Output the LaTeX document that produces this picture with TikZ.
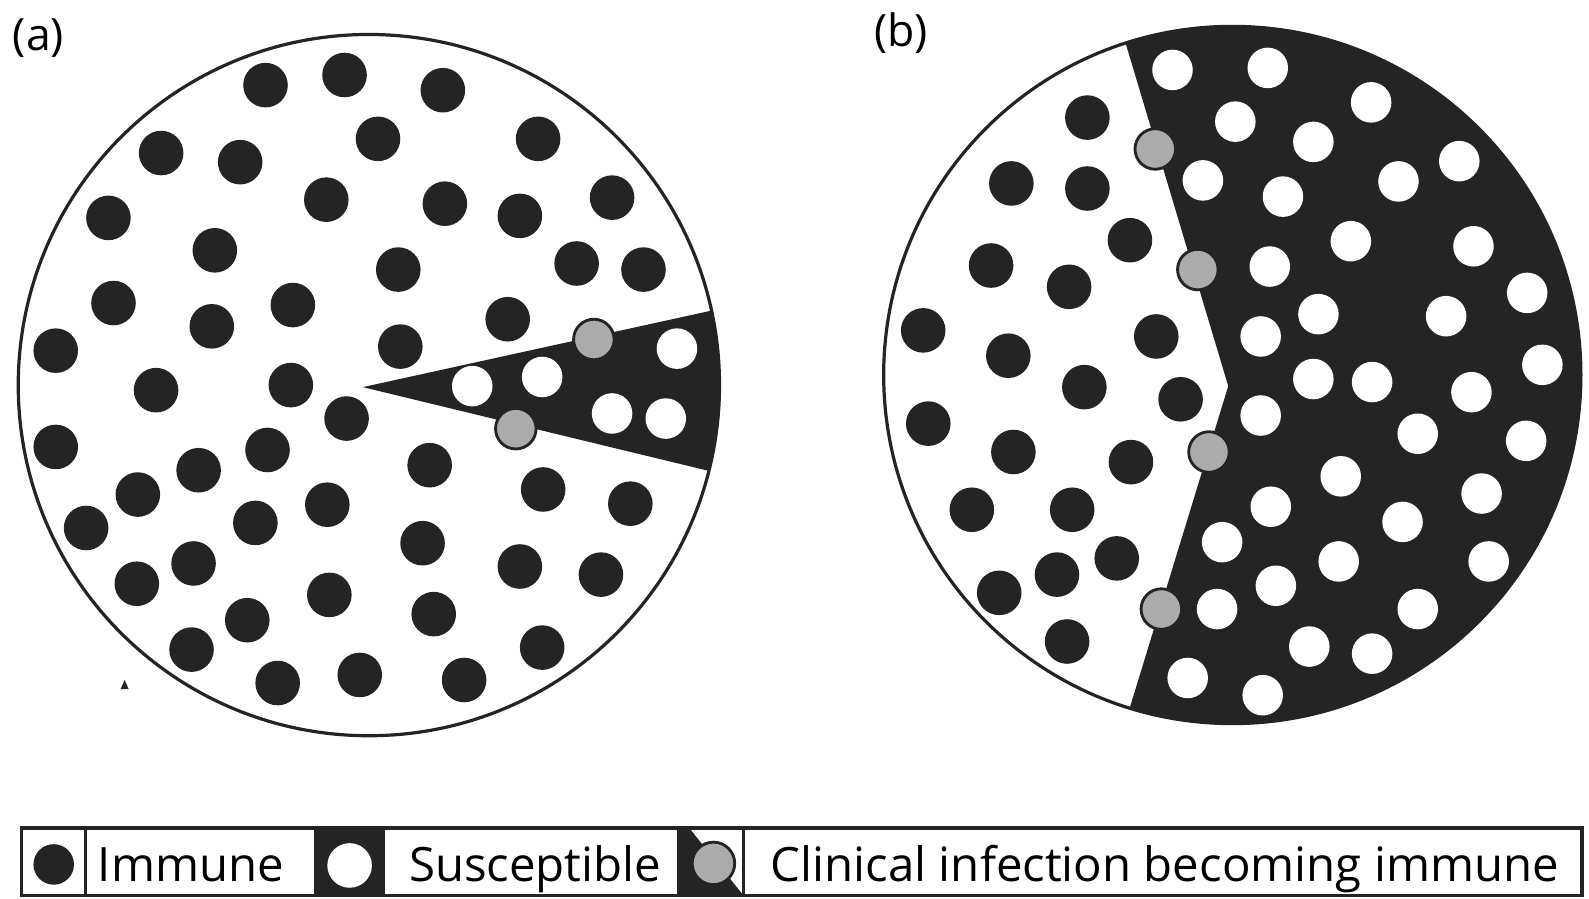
\documentclass[tikz,border=0pt]{standalone}
\usepackage{fontspec}
\setmainfont{Open Sans}
\definecolor{ink}{HTML}{242424}
\definecolor{hatch}{HTML}{ABABAB}

\begin{document}
\begin{tikzpicture}[x=0.1mm,y=-0.1mm,
    immune/.style={fill=ink},
    susceptible/.style={fill=white},
    clinical/.style={fill=hatch,draw=ink,line width=0.8pt},
    rim/.style={draw=ink,line width=0.9pt},
    legtext/.style={anchor=base west,inner sep=0pt,font=\fontsize{13.3}{16}\selectfont},
    paneltext/.style={anchor=base west,inner sep=0pt,font=\fontsize{12.5}{15}\selectfont}]
    \useasboundingbox (0,0) rectangle (1568,887);

    % Panel labels
    \node[paneltext] (labela) at (12,50) {(a)};
    \node[paneltext] (labelb) at (862,46) {(b)};

    % (a) wedge of infection
    \begin{scope}
        \clip (364,380) circle[radius=346];
        \fill[ink] (358,382) -- (800,285) -- (800,489) -- cycle;
    \end{scope}
    \draw[rim] (364,380) circle[radius=346];
    \foreach \x/\y in {262/84,340/74,437/89,373/137,531/137,159/151,237/160,322/197,
        439/201,513/213,604/195,107/215,212/247,393/266,569/260,635/266,112/299,
        289/301,209/322,501/315,395/342,55/346,154/385,287/380,342/413,55/441,
        264/444,196/464,424/459,136/488,536/483,622/497,85/521,252/516,323/498,
        417/536,191/556,135/576,513/559,593/567,325/587,244/612,428/606,189/641,
        535/639,274/674,355/666,458/671}
        \fill[immune] (\x,\y) circle[radius=22];
    \foreach \x/\y in {466/381,535/372,668/344,604/408,657/413}
        \fill[susceptible] (\x,\y) circle[radius=20];
    \foreach \x/\y in {586/335,509/423}
        \filldraw[clinical] (\x,\y) circle[radius=20];
    \fill[ink] (119,680) -- (123,671) -- (127,680) -- cycle;

    % (b) front of infection
    \begin{scope}
        \clip (1216,370) circle[radius=344];
        \fill[ink] (1098,0) -- (1212,381) -- (1096,760) -- (1600,760) -- (1600,0) -- cycle;
    \end{scope}
    \draw[rim] (1216,370) circle[radius=344];
    \foreach \x/\y in {1073/116,998/181,1073/186,1115/237,978/262,1055/283,911/326,
        1141/332,995/351,1070/382,1165/394,916/418,1000/446,1116/456,959/503,
        1058/503,1102/551,1043/567,986/585,1053/633}
        \fill[immune] (\x,\y) circle[radius=22];
    \foreach \x/\y in {1157/69,1251/67,1219/120,1353/101,1296/140,1440/159,1187/178,
        1380/179,1266/194,1333/238,1454/243,1253/263,1507/289,1301/310,1427/312,
        1244/332,1522/360,1296/374,1354/377,1452/387,1244/410,1399/428,1506/435,
        1323/470,1254/500,1462/487,1384/515,1206/535,1321/554,1469/554,1259/578,
        1201/601,1399/601,1292/638,1354/645,1172/669,1246/686}
        \fill[susceptible] (\x,\y) circle[radius=20];
    \foreach \x/\y in {1140/147,1182/266,1193/446,1146/601}
        \filldraw[clinical] (\x,\y) circle[radius=20];

    % Legend
    \fill[ink] (311,817) rectangle (378,884);
    \fill[ink] (670,817) -- (680,817) -- (734,884) -- (670,884) -- cycle;
    \draw[rim] (21,817) rectangle (1561,884);
    \foreach \x in {84,311,378,670,734}
        \draw[rim] (\x,817) -- (\x,884);
    \fill[immune] (53,853) circle[radius=20];
    \fill[susceptible] (345,854) circle[radius=22];
    \filldraw[clinical] (704,852) circle[radius=21];
    \node[legtext] (immune) at (96,870) {Immune};
    \node[legtext] (suscep) at (403,870) {Susceptible};
    \node[legtext] (clinic) at (760,870) {Clinical infection becoming immune};
\end{tikzpicture}
\end{document}
